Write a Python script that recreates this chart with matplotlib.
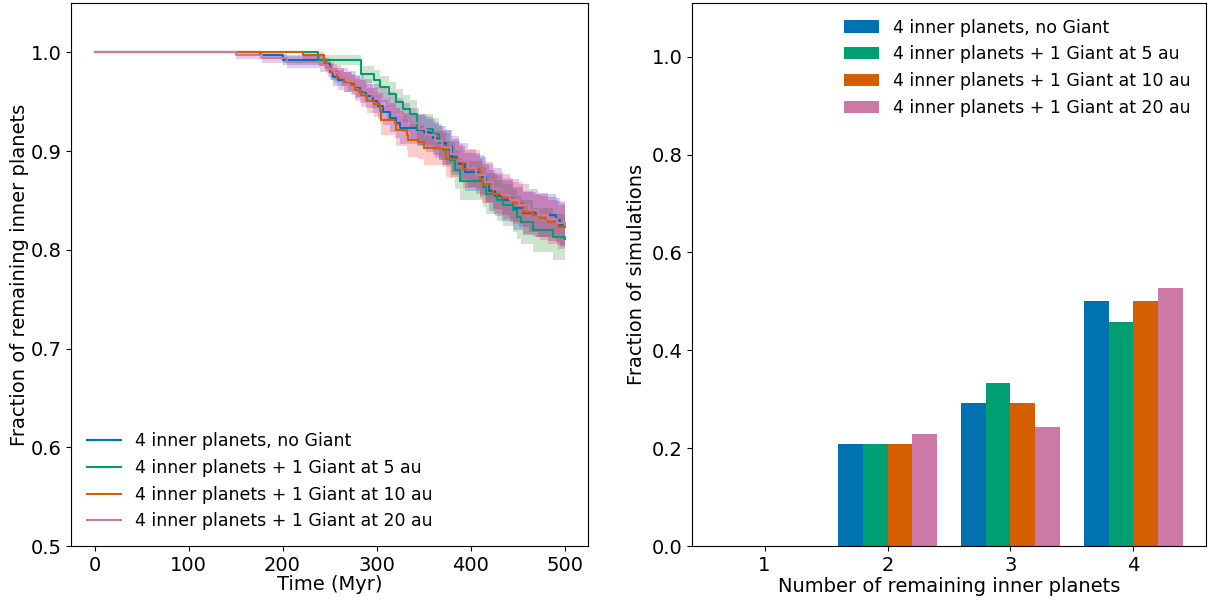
import numpy as np
import matplotlib.pyplot as plt

## labels and colours
labels = ["4 inner planets, no Giant",
          "4 inner planets + 1 Giant at 5 au",
          "4 inner planets + 1 Giant at 10 au",
          "4 inner planets + 1 Giant at 20 au"]
line_colors = ["#0072B2", "#009E73", "#D55E00", "#CC79A7"]
band_colors = ["blue", "green", "red", "purple"]

## number of inner planets per set (for the error band)
n_planets = [288, 288, 288, 280]

## step curves: time (Myr) and fraction remaining
t_blue = [0, 176, 201, 245, 250, 254, 259, 265, 273, 277, 282, 289, 296, 302, 307, 314, 321, 325, 343, 350,
          357, 360, 367, 374, 380, 388, 394, 410, 417, 420, 426, 434, 445, 456, 470, 491, 495, 500]
v_blue = [1.0, 0.997, 0.992, 0.988, 0.980, 0.975, 0.972, 0.970, 0.968, 0.965, 0.960, 0.956, 0.951, 0.946, 0.940,
          0.934, 0.928, 0.923, 0.921, 0.919, 0.918, 0.913, 0.908, 0.904, 0.894, 0.887, 0.879, 0.874, 0.867, 0.860,
          0.855, 0.850, 0.842, 0.837, 0.835, 0.830, 0.825, 0.823]

t_green = [0, 238, 284, 297, 304, 313, 321, 328, 336, 343, 360, 366, 371, 378, 383, 389, 413, 417, 428, 435,
           445, 449, 454, 466, 488, 500]
v_green = [1.0, 0.992, 0.978, 0.972, 0.965, 0.958, 0.950, 0.943, 0.938, 0.922, 0.917, 0.908, 0.901, 0.891,
           0.881, 0.870, 0.864, 0.857, 0.850, 0.845, 0.840, 0.833, 0.828, 0.820, 0.813, 0.811]

t_orange = [0, 222, 244, 247, 252, 258, 265, 274, 277, 284, 290, 297, 304, 305, 320, 321, 332, 334, 344, 350,
            374, 389, 392, 410, 412, 424, 435, 445, 456, 466, 474, 482, 493, 500]
v_orange = [1.0, 0.997, 0.989, 0.985, 0.980, 0.975, 0.970, 0.967, 0.962, 0.957, 0.951, 0.948, 0.941, 0.931,
            0.928, 0.921, 0.916, 0.911, 0.909, 0.903, 0.892, 0.889, 0.882, 0.872, 0.867, 0.857, 0.852, 0.847,
            0.838, 0.835, 0.832, 0.828, 0.823, 0.823]

t_pink = [0, 151, 178, 205, 240, 248, 255, 262, 270, 278, 287, 295, 303, 311, 320, 328, 336, 345, 353, 362,
          370, 379, 388, 397, 406, 415, 424, 433, 442, 452, 462, 472, 482, 492, 500]
v_pink = [1.0, 0.997, 0.994, 0.990, 0.987, 0.983, 0.979, 0.975, 0.971, 0.966, 0.961, 0.956, 0.951, 0.946,
          0.940, 0.934, 0.928, 0.922, 0.916, 0.910, 0.904, 0.897, 0.890, 0.883, 0.876, 0.869, 0.862, 0.856,
          0.850, 0.845, 0.840, 0.835, 0.831, 0.827, 0.825]

## histogram of remaining planets
n_remaining = [1, 2, 3, 4]
frac_blue = [0.0, 0.208, 0.292, 0.500]
frac_green = [0.0, 0.208, 0.333, 0.458]
frac_orange = [0.0, 0.208, 0.292, 0.500]
frac_pink = [0.0, 0.229, 0.243, 0.528]

curves = [(t_blue, v_blue), (t_green, v_green), (t_orange, v_orange), (t_pink, v_pink)]
fracs = [frac_blue, frac_green, frac_orange, frac_pink]

fig = plt.figure(figsize=(12.14, 6.0), dpi=100)
ax1 = fig.add_axes([71/1214, 54/600, 517/1214, 543/600])
ax2 = fig.add_axes([692/1214, 54/600, 514/1214, 543/600])

for i in range(4):
    t = np.array(curves[i][0], dtype=float)
    v = np.array(curves[i][1], dtype=float)
    err = np.sqrt(v*(1-v)/n_planets[i])
    ax1.fill_between(t, v-err, v+err, step='post', color=band_colors[i], alpha=0.2, linewidth=0)
for i in range(4):
    ax1.step(curves[i][0], curves[i][1], where='post', color=line_colors[i], lw=1.5, label=labels[i])

ax1.set_ylim(0.5, 1.05)
ax1.set_xlim(-25, 525)
ax1.set_xlabel("Time (Myr)", fontsize=14, labelpad=0)
ax1.set_ylabel("Fraction of remaining inner planets", fontsize=14, labelpad=1)
ax1.tick_params(labelsize=14)
ax1.legend(loc='lower left', frameon=False, fontsize=12.5)

x = np.array(n_remaining)
w = 0.2
for i in range(4):
    ax2.bar(x + (i-1.5)*w, fracs[i], width=w, color=line_colors[i], label=labels[i])
ax2.set_ylim(0, 1.11)
ax2.set_xticks(n_remaining)
ax2.set_xlabel("Number of remaining inner planets", fontsize=14, labelpad=2)
ax2.set_ylabel("Fraction of simulations", fontsize=14)
ax2.tick_params(labelsize=14)
ax2.legend(loc='upper right', frameon=False, fontsize=12.5)

plt.savefig("out.png", dpi=100)
